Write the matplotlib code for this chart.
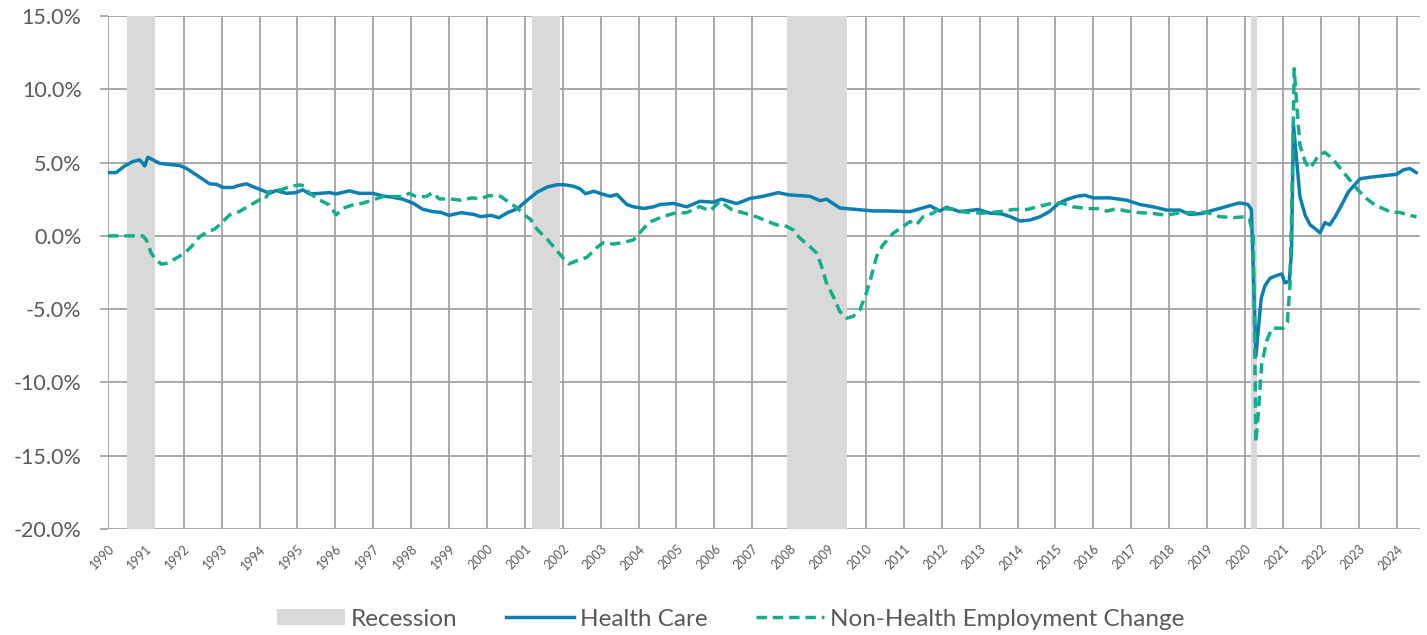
import matplotlib
matplotlib.use("Agg")
import matplotlib.pyplot as plt
from matplotlib.patches import Patch
from matplotlib.lines import Line2D

plt.rcParams['font.family'] = ['Lato', 'DejaVu Sans']

# recession periods (decimal years)
recessions = [(1990.51, 1991.24), (2001.18, 2001.93), (2007.92, 2009.49), (2020.17, 2020.31)]

# Health Care employment change, % (decimal year, value)
health_x = [1990.0, 1990.22, 1990.44, 1990.66, 1990.83, 1990.92, 1990.97, 1991.05, 1991.19, 1991.36,
            1991.54, 1991.89, 1992.07, 1992.33, 1992.68, 1992.86, 1993.03, 1993.3, 1993.43, 1993.65,
            1993.82, 1994.09, 1994.26, 1994.44, 1994.7, 1994.96, 1995.14, 1995.32, 1995.58, 1995.84,
            1996.02, 1996.37, 1996.63, 1996.99, 1997.25, 1997.51, 1997.78, 1998.05, 1998.3, 1998.56,
            1998.78, 1999.0, 1999.31, 1999.66, 1999.83, 2000.1, 2000.32, 2000.54, 2000.8, 2001.06,
            2001.32, 2001.59, 2001.85, 2002.03, 2002.29, 2002.46, 2002.6, 2002.82, 2003.08, 2003.25,
            2003.43, 2003.69, 2003.87, 2004.13, 2004.39, 2004.57, 2004.92, 2005.27, 2005.62, 2005.97,
            2006.19, 2006.59, 2006.94, 2007.29, 2007.69, 2007.95, 2008.52, 2008.79, 2008.96, 2009.31,
            2009.75, 2010.19, 2010.55, 2011.16, 2011.69, 2011.95, 2012.13, 2012.48, 2012.96, 2013.27,
            2013.58, 2013.81, 2014.07, 2014.33, 2014.6, 2014.86, 2015.08, 2015.3, 2015.56, 2015.78,
            2016.0, 2016.44, 2016.88, 2017.23, 2017.58, 2017.93, 2018.28, 2018.54, 2018.89, 2019.07,
            2019.33, 2019.6, 2019.86, 2020.08, 2020.17, 2020.29, 2020.43, 2020.53, 2020.66, 2020.84,
            2020.97, 2021.06, 2021.17, 2021.23, 2021.28, 2021.37, 2021.45, 2021.59, 2021.72, 2021.85,
            2021.98, 2022.11, 2022.24, 2022.38, 2022.55, 2022.73, 2022.9, 2023.04, 2023.3, 2023.65,
            2024.0, 2024.18, 2024.35, 2024.53]
health_y = [4.32, 4.32, 4.77, 5.07, 5.18, 4.95, 4.77, 5.36, 5.18, 4.95,
            4.89, 4.8, 4.6, 4.16, 3.55, 3.52, 3.3, 3.3, 3.43, 3.55,
            3.36, 3.09, 2.9, 3.09, 2.9, 2.95, 3.14, 2.86, 2.9, 2.95,
            2.86, 3.07, 2.9, 2.9, 2.72, 2.63, 2.5, 2.23, 1.82, 1.66,
            1.6, 1.4, 1.58, 1.46, 1.31, 1.4, 1.24, 1.58, 1.85, 2.43,
            2.97, 3.33, 3.49, 3.49, 3.38, 3.2, 2.88, 3.04, 2.82, 2.7,
            2.82, 2.14, 1.98, 1.87, 1.98, 2.14, 2.21, 1.98, 2.36, 2.3,
            2.5, 2.2, 2.55, 2.7, 2.95, 2.8, 2.7, 2.4, 2.5, 1.9,
            1.8, 1.7, 1.7, 1.65, 2.05, 1.7, 1.95, 1.65, 1.8, 1.55,
            1.5, 1.31, 1.01, 1.08, 1.31, 1.69, 2.21, 2.48, 2.7, 2.77,
            2.59, 2.59, 2.43, 2.14, 1.98, 1.76, 1.76, 1.46, 1.53, 1.69,
            1.87, 2.07, 2.25, 2.14, 1.8, -8.2, -4.25, -3.4, -2.9, -2.7,
            -2.6, -3.2, -3.1, -1.0, 7.6, 5.0, 2.7, 1.4, 0.75, 0.5,
            0.2, 0.9, 0.75, 1.3, 2.1, 3.0, 3.5, 3.9, 4.0, 4.1,
            4.2, 4.5, 4.6, 4.3]

# Non-Health employment change, % (decimal year, value)
nonhealth_x = [1990.0, 1990.5, 1990.92, 1991.01, 1991.14, 1991.27, 1991.41, 1991.58, 1991.8, 1992.02,
               1992.2, 1992.42, 1992.64, 1992.81, 1992.99, 1993.21, 1993.47, 1993.73, 1994.0, 1994.13,
               1994.26, 1994.44, 1994.61, 1994.79, 1995.05, 1995.18, 1995.32, 1995.58, 1995.84, 1996.02,
               1996.2, 1996.46, 1996.72, 1996.99, 1997.25, 1997.51, 1997.78, 1997.95, 1998.13, 1998.4,
               1998.56, 1998.74, 1999.04, 1999.31, 1999.61, 1999.83, 2000.05, 2000.36, 2000.54, 2000.8,
               2000.97, 2001.15, 2001.32, 2001.59, 2001.81, 2002.03, 2002.16, 2002.38, 2002.64, 2002.9,
               2003.08, 2003.34, 2003.6, 2003.87, 2004.04, 2004.26, 2004.57, 2004.92, 2005.27, 2005.62,
               2005.88, 2006.15, 2006.45, 2006.7, 2007.11, 2007.64, 2007.9, 2008.08, 2008.26, 2008.52,
               2008.7, 2008.83, 2008.96, 2009.14, 2009.31, 2009.49, 2009.66, 2009.84, 2010.01, 2010.14,
               2010.28, 2010.45, 2010.72, 2010.98, 2011.16, 2011.33, 2011.51, 2011.77, 2011.95, 2012.3,
               2012.65, 2013.09, 2013.53, 2013.89, 2014.25, 2014.6, 2014.95, 2015.21, 2015.47, 2015.82,
               2016.18, 2016.35, 2016.61, 2016.88, 2017.23, 2017.58, 2017.93, 2018.28, 2018.63, 2018.98,
               2019.33, 2019.68, 2020.04, 2020.12, 2020.22, 2020.29, 2020.35, 2020.44, 2020.57, 2020.71,
               2020.84, 2021.01, 2021.12, 2021.19, 2021.26, 2021.3, 2021.37, 2021.45, 2021.59, 2021.7,
               2021.8, 2021.94, 2022.11, 2022.33, 2022.55, 2022.77, 2022.99, 2023.21, 2023.43, 2023.65,
               2023.87, 2024.09, 2024.27, 2024.53]
nonhealth_y = [0.0, 0.0, 0.0, -0.27, -1.18, -1.64, -1.93, -1.86, -1.52, -1.18,
               -0.73, -0.05, 0.3, 0.45, 0.86, 1.43, 1.66, 2.07, 2.45, 2.45,
               3.02, 3.09, 3.18, 3.36, 3.48, 3.41, 2.9, 2.45, 2.11, 1.43,
               1.89, 2.11, 2.23, 2.45, 2.68, 2.68, 2.68, 2.9, 2.68, 2.68,
               2.95, 2.52, 2.52, 2.43, 2.59, 2.52, 2.75, 2.7, 2.36, 1.91,
               1.46, 1.13, 0.45, -0.23, -0.9, -1.58, -1.91, -1.69, -1.46, -0.79,
               -0.45, -0.56, -0.45, -0.27, 0.23, 0.9, 1.24, 1.53, 1.58, 2.0,
               1.7, 2.35, 1.8, 1.62, 1.3, 0.75, 0.65, 0.41, -0.16, -0.73,
               -1.18, -2.09, -3.23, -4.14, -5.16, -5.61, -5.5, -5.05, -3.91, -2.77,
               -1.41, -0.61, 0.18, 0.64, 0.98, 0.75, 1.32, 1.55, 1.9, 1.8,
               1.6, 1.55, 1.65, 1.8, 1.8, 2.03, 2.25, 2.21, 1.98, 1.87,
               1.85, 1.69, 1.85, 1.69, 1.58, 1.53, 1.4, 1.58, 1.58, 1.62,
               1.31, 1.24, 1.31, 1.13, 0.0, -14.1, -12.2, -8.8, -7.2, -6.3,
               -6.3, -6.3, -5.9, -3.3, 5.0, 11.4, 8.9, 6.2, 5.05, 4.6,
               4.9, 5.5, 5.7, 5.2, 4.5, 3.8, 3.1, 2.55, 2.1, 1.85,
               1.6, 1.6, 1.45, 1.3]

years = list(range(1990, 2025))
yticks = [-20, -15, -10, -5, 0, 5, 10, 15]

grid_col = '#a3a3a3'
text_col = '#595959'
blue = '#0c7fb1'
teal = '#14ad8c'
shade = '#d9d9d9'
lw = 2.5
dash = (3.0, 1.7)

fig = plt.figure(figsize=(14.27, 6.35), dpi=100)
ax = fig.add_axes([108 / 1427, 1 - 529 / 635, (1420 - 108) / 1427, (529 - 16) / 635])

for x0, x1 in recessions:
    ax.axvspan(x0, x1, color=shade, lw=0, zorder=1.5)

ax.plot(health_x, health_y, color=blue, lw=lw, zorder=3, solid_capstyle='round')
ax.plot(nonhealth_x, nonhealth_y, color=teal, lw=lw, zorder=3, dashes=dash)

ax.set_xlim(1990, 2024.62)
ax.set_ylim(-20, 15)
ax.set_xticks(years)
ax.set_xticklabels([str(y) for y in years], rotation=45, ha='right', rotation_mode='anchor',
                   fontsize=9, color=text_col)
ax.set_yticks(yticks)
ax.set_yticklabels([f"{v:.1f}%" for v in yticks], fontsize=15.5, color=text_col)
ax.tick_params(axis='x', length=0, pad=10)
ax.tick_params(axis='y', length=6, width=1.3, color=grid_col, pad=13)
ax.grid(True, color=grid_col, lw=1.3, zorder=1)
ax.set_axisbelow(True)
for s in ax.spines.values():
    s.set_visible(False)

handles = [Patch(facecolor=shade, edgecolor='none'),
           Line2D([], [], color=blue, lw=lw),
           Line2D([], [], color=teal, lw=lw, dashes=dash)]
labels = ['Recession', 'Health Care', 'Non-Health Employment Change']
leg = fig.legend(handles, labels, loc='center', bbox_to_anchor=(0.512, 1 - 619 / 635), ncol=3,
                 frameon=False, fontsize=17.5, handlelength=2.8, handletextpad=0.25,
                 columnspacing=2.0, handleheight=0.6)
for t in leg.get_texts():
    t.set_color(text_col)

fig.savefig('out.png', dpi=100)
